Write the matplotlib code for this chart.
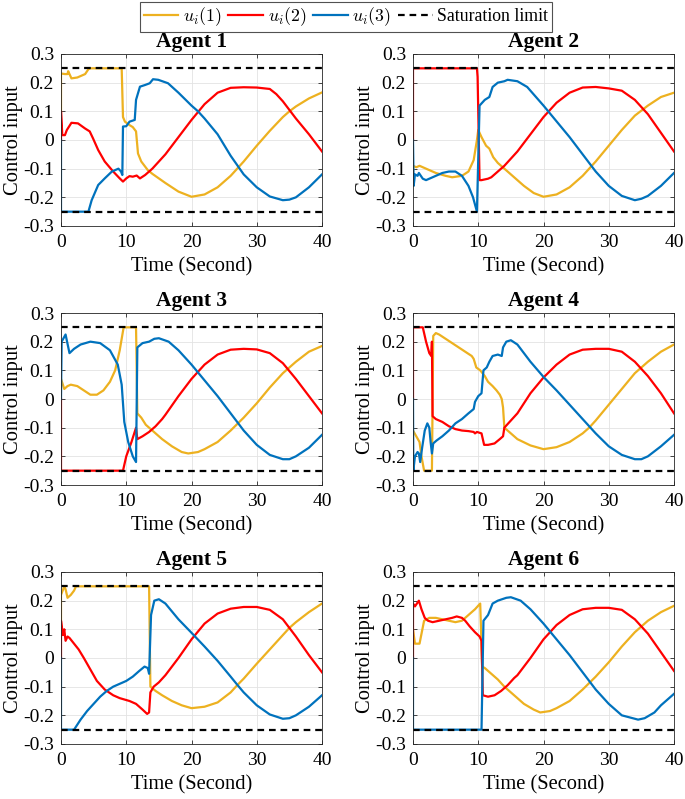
import numpy as np
import matplotlib.pyplot as plt

plt.rcParams['font.family'] = ['Liberation Serif', 'DejaVu Serif']
plt.rcParams['mathtext.fontset'] = 'cm'

SAT = 0.25
COLORS = ['#EDB120', '#FF0000', '#0072BD']
LABELS = [r'$u_i(1)$', r'$u_i(2)$', r'$u_i(3)$', 'Saturation limit']
TITLES = ['Agent 1', 'Agent 2', 'Agent 3', 'Agent 4', 'Agent 5', 'Agent 6']
X_TICKS = [0, 10, 20, 30, 40]
Y_TICKS = [-0.3, -0.2, -0.1, 0, 0.1, 0.2, 0.3]
Y_TICK_LABELS = ['-0.3', '-0.2', '-0.1', '0', '0.1', '0.2', '0.3']

# ---- Agent 1 ----
a1_t1 = [0, 0, 0.6, 1.0, 1.1, 1.6, 2.5, 3.7, 4.2, 4.5, 9.3, 9.5, 9.8, 10.5, 11.0, 11.5,
         11.8, 12.3, 13.3, 14.0, 16.0, 18.0, 20.0, 22.0, 24.0, 26.0, 28.0, 30.0, 32.0,
         34.0, 35.0, 36.0, 38.0, 40.0]
a1_u1 = [0.10, 0.232, 0.23, 0.23, 0.24, 0.215, 0.218, 0.23, 0.247, 0.25, 0.25, 0.08, 0.064,
         0.052, 0.045, 0.03, -0.047, -0.075, -0.105, -0.118, -0.15, -0.18, -0.198, -0.19,
         -0.165, -0.125, -0.075, -0.02, 0.032, 0.08, 0.10, 0.117, 0.145, 0.166]
a1_t2 = [0, 0, 0.2, 0.6, 0.9, 1.6, 2.6, 3.7, 4.4, 4.9, 5.7, 6.7, 8.0, 9.0, 9.5, 10.0, 10.5,
         11.0, 11.6, 12.1, 12.9, 14.0, 16.0, 18.0, 20.0, 22.0, 24.0, 26.0, 28.0, 30.0,
         32.0, 33.0, 34.0, 35.0, 36.0, 38.0, 40.0]
a1_u2 = [0, 0.10, 0.017, 0.017, 0.035, 0.06, 0.058, 0.04, 0.03, 0.006, -0.035, -0.075,
         -0.11, -0.134, -0.145, -0.134, -0.126, -0.128, -0.124, -0.134, -0.122, -0.10,
         -0.05, 0.01, 0.07, 0.125, 0.165, 0.182, 0.184, 0.183, 0.178, 0.16, 0.135, 0.105,
         0.075, 0.02, -0.04]
a1_t3 = [0, 0, 4.2, 4.7, 5.7, 6.7, 7.8, 8.8, 9.2, 9.4, 9.5, 10.0, 10.5, 11.3, 11.5, 12.1,
         12.9, 13.6, 14.1, 14.9, 16.4, 18.0, 20.0, 21.0, 22.0, 24.0, 26.0, 28.0, 30.0,
         32.0, 34.0, 35.0, 36.0, 38.0, 40.0]
a1_u3 = [0, -0.25, -0.25, -0.21, -0.157, -0.134, -0.11, -0.10, -0.11, -0.122, 0.047, 0.048,
         0.064, 0.07, 0.14, 0.186, 0.192, 0.198, 0.212, 0.21, 0.198, 0.165, 0.12, 0.10,
         0.075, 0.02, -0.055, -0.12, -0.165, -0.197, -0.21, -0.208, -0.2, -0.165, -0.12]

# ---- Agent 2 ----
a2_t1 = [0, 0, 0.5, 1.0, 2.0, 3.5, 5.0, 6.0, 7.5, 8.5, 9.3, 9.8, 10.0, 10.5, 11.2, 11.7,
         12.3, 13.0, 14.0, 15.5, 17.0, 18.5, 20.0, 22.0, 24.0, 26.0, 28.0, 30.0, 32.0,
         34.0, 36.0, 38.0, 40.0]
a2_u1 = [-0.16, -0.09, -0.095, -0.09, -0.10, -0.115, -0.125, -0.13, -0.125, -0.11, -0.07,
         0.0, 0.035, 0.01, -0.02, -0.03, -0.06, -0.08, -0.10, -0.13, -0.16, -0.185, -0.198,
         -0.19, -0.165, -0.125, -0.075, -0.02, 0.035, 0.085, 0.12, 0.15, 0.165]
a2_t2 = [0, 0, 9.8, 9.9, 10.2, 10.5, 11.5, 12.0, 13.0, 14.0, 15.0, 16.0, 18.0, 20.0, 22.0,
         24.0, 26.0, 28.0, 30.0, 32.0, 34.0, 36.0, 38.0, 40.0]
a2_u2 = [0, 0.25, 0.25, 0.22, -0.14, -0.14, -0.135, -0.13, -0.11, -0.09, -0.065, -0.04,
         0.02, 0.08, 0.13, 0.165, 0.183, 0.185, 0.18, 0.172, 0.14, 0.09, 0.025, -0.04]
a2_t3 = [0, 0.1, 0.3, 0.7, 0.9, 1.5, 2.0, 3.0, 4.5, 5.5, 6.5, 7.5, 8.5, 9.2, 9.8, 10.2,
         11.0, 11.7, 12.2, 13.0, 14.0, 14.5, 16.0, 17.5, 20.0, 22.0, 24.0, 26.0, 28.0,
         30.0, 32.0, 34.0, 35.0, 36.0, 38.0, 40.0]
a2_u3 = [0, -0.16, -0.12, -0.125, -0.115, -0.135, -0.14, -0.13, -0.115, -0.11, -0.11,
         -0.125, -0.16, -0.20, -0.25, 0.12, 0.14, 0.15, 0.185, 0.20, 0.205, 0.21, 0.205,
         0.185, 0.12, 0.065, 0.01, -0.05, -0.11, -0.16, -0.195, -0.21, -0.205, -0.195,
         -0.16, -0.115]

# ---- Agent 3 ----
a3_t1 = [0, 0.5, 1.0, 1.5, 2.5, 3.5, 4.5, 5.5, 6.5, 7.5, 8.3, 9.0, 9.6, 11.5, 11.7, 12.3,
         13.0, 14.0, 15.5, 17.0, 18.5, 19.5, 21.0, 22.0, 24.0, 26.0, 28.0, 30.0, 32.0,
         34.0, 36.0, 38.0, 40.0]
a3_u1 = [0.07, 0.035, 0.045, 0.05, 0.045, 0.03, 0.015, 0.015, 0.03, 0.06, 0.10, 0.17, 0.25,
         0.25, -0.05, -0.065, -0.09, -0.11, -0.14, -0.165, -0.185, -0.19, -0.185, -0.175,
         -0.15, -0.11, -0.065, -0.015, 0.04, 0.09, 0.13, 0.165, 0.185]
a3_t2 = [0, 0, 9.5, 10.0, 10.8, 11.5, 11.7, 12.5, 13.5, 14.5, 15.5, 16.0, 18.0, 20.0, 22.0,
         24.0, 26.0, 28.0, 30.0, 32.0, 34.0, 36.0, 38.0, 40.0]
a3_u2 = [0, -0.25, -0.25, -0.20, -0.15, -0.10, -0.14, -0.13, -0.115, -0.095, -0.07, -0.055,
         0.01, 0.07, 0.12, 0.155, 0.172, 0.175, 0.173, 0.16, 0.125, 0.07, 0.01, -0.05]
a3_t3 = [0, 0.1, 0.7, 1.3, 2.0, 3.0, 4.5, 6.0, 7.5, 8.7, 9.3, 9.7, 10.3, 11.0, 11.5, 11.7,
         12.5, 13.5, 14.3, 15.0, 16.5, 18.0, 20.0, 22.0, 24.0, 26.0, 28.0, 30.0, 32.0,
         34.0, 35.0, 36.0, 38.0, 40.0]
a3_u3 = [0, 0.20, 0.225, 0.16, 0.175, 0.19, 0.20, 0.195, 0.17, 0.12, 0.05, -0.08, -0.15,
         -0.20, -0.22, 0.18, 0.195, 0.20, 0.21, 0.212, 0.20, 0.17, 0.12, 0.065, 0.01,
         -0.05, -0.11, -0.16, -0.195, -0.21, -0.21, -0.20, -0.17, -0.125]

# ---- Agent 4 ----
a4_t1 = [0, 0.5, 1.0, 1.3, 1.7, 2.9, 3.1, 3.5, 4.0, 5.0, 6.0, 7.0, 8.0, 9.0, 9.3, 9.7,
         10.3, 11.0, 11.5, 12.2, 12.8, 13.3, 13.6, 13.8, 14.0, 15.0, 16.0, 18.0, 20.0,
         22.0, 24.0, 26.0, 27.0, 28.0, 30.0, 32.0, 34.0, 36.0, 38.0, 40.0]
a4_u1 = [-0.11, -0.13, -0.15, -0.20, -0.25, -0.25, 0.22, 0.23, 0.225, 0.21, 0.195, 0.18,
         0.165, 0.15, 0.14, 0.11, 0.10, 0.08, 0.06, 0.045, 0.03, 0.015, 0.0, -0.03, -0.10,
         -0.12, -0.14, -0.162, -0.175, -0.168, -0.15, -0.12, -0.10, -0.075, -0.02, 0.035,
         0.09, 0.13, 0.165, 0.19]
a4_t2 = [0, 0, 1.5, 2.0, 2.5, 2.8, 2.9, 3.0, 3.5, 4.5, 5.5, 6.5, 7.5, 8.5, 9.3, 9.5, 9.8,
         10.5, 10.9, 11.5, 12.5, 13.3, 13.8, 14.0, 16.0, 18.0, 20.0, 22.0, 24.0, 26.0, 28.0,
         30.0, 32.0, 34.0, 36.0, 38.0, 40.0]
a4_u2 = [0, 0.25, 0.25, 0.20, 0.16, 0.15, 0.20, -0.06, -0.07, -0.08, -0.095, -0.105,
         -0.11, -0.112, -0.115, -0.12, -0.115, -0.12, -0.16, -0.16, -0.155, -0.14, -0.13,
         -0.10, -0.05, 0.02, 0.075, 0.12, 0.155, 0.172, 0.175, 0.175, 0.165, 0.13, 0.08,
         0.02, -0.05]
a4_t3 = [0, 0.05, 0.3, 0.7, 0.9, 1.1, 1.4, 1.8, 2.2, 2.5, 2.7, 2.9, 3.1, 3.6, 4.5, 5.5, 6.5,
         7.5, 8.5, 9.3, 9.5, 10.0, 10.5, 10.8, 11.3, 11.7, 12.2, 13.0, 13.6, 13.8, 14.3,
         15.0, 16.0, 18.0, 20.0, 22.0, 24.0, 26.0, 28.0, 30.0, 32.0, 34.0, 35.0, 36.0,
         38.0, 40.0]
a4_u3 = [0, -0.25, -0.20, -0.185, -0.19, -0.22, -0.17, -0.11, -0.085, -0.10, -0.15, -0.19,
         -0.155, -0.145, -0.13, -0.11, -0.085, -0.07, -0.05, -0.035, -0.01, 0.01, 0.02,
         0.10, 0.11, 0.13, 0.15, 0.155, 0.15, 0.18, 0.20, 0.205, 0.19, 0.13, 0.077, 0.03,
         -0.02, -0.07, -0.12, -0.165, -0.195, -0.21, -0.21, -0.20, -0.165, -0.125]

# ---- Agent 5 ----
a5_t1 = [0, 0, 0.5, 0.7, 1.0, 1.5, 2.0, 2.3, 13.5, 13.7, 14.5, 15.5, 17.0, 18.5, 20.0,
         22.0, 24.0, 26.0, 27.0, 28.0, 30.0, 32.0, 34.0, 35.0, 36.0, 38.0, 40.0]
a5_u1 = [0.12, 0.22, 0.25, 0.24, 0.21, 0.22, 0.235, 0.25, 0.25, -0.10, -0.115, -0.13,
         -0.15, -0.165, -0.175, -0.17, -0.155, -0.12, -0.095, -0.072, -0.02, 0.03, 0.08,
         0.105, 0.125, 0.16, 0.19]
a5_t2 = [0, 0, 0.3, 0.5, 0.7, 1.0, 1.3, 2.0, 2.7, 3.5, 4.5, 5.5, 6.7, 8.0, 9.0, 10.5, 11.5,
         12.5, 13.2, 13.5, 13.7, 14.2, 15.0, 16.0, 18.0, 20.0, 22.0, 24.0, 26.0, 28.0,
         30.0, 32.0, 34.0, 35.0, 36.0, 38.0, 40.0]
a5_u2 = [0, 0.13, 0.08, 0.10, 0.06, 0.075, 0.07, 0.05, 0.03, 0.0, -0.04, -0.08, -0.11,
         -0.13, -0.14, -0.15, -0.16, -0.18, -0.195, -0.19, -0.12, -0.10, -0.085, -0.06,
         0.0, 0.065, 0.12, 0.155, 0.172, 0.178, 0.178, 0.168, 0.135, 0.105, 0.075, 0.01,
         -0.05]
a5_t3 = [0, 0, 2.0, 3.0, 4.0, 5.0, 6.0, 7.0, 8.0, 9.0, 10.0, 11.0, 12.0, 12.8, 13.3, 13.5,
         13.8, 14.3, 15.0, 16.0, 18.0, 20.0, 22.0, 24.0, 26.0, 27.0, 28.0, 30.0, 32.0,
         34.0, 35.0, 36.0, 38.0, 40.0]
a5_u3 = [0, -0.25, -0.25, -0.215, -0.185, -0.16, -0.135, -0.115, -0.10, -0.09, -0.08,
         -0.065, -0.045, -0.03, -0.035, -0.055, 0.15, 0.20, 0.205, 0.19, 0.135, 0.088,
         0.04, -0.01, -0.065, -0.093, -0.12, -0.165, -0.197, -0.212, -0.21, -0.20, -0.17,
         -0.13]

# ---- Agent 6 ----
a6_t1 = [0, 0.3, 1.0, 1.7, 2.5, 3.5, 4.5, 5.5, 6.5, 7.5, 8.5, 9.5, 10.3, 10.6, 11.0, 12.0,
         13.0, 14.0, 15.5, 17.0, 18.5, 19.5, 21.0, 22.0, 24.0, 26.0, 28.0, 30.0, 32.0,
         34.0, 36.0, 38.0, 40.0]
a6_u1 = [0.10, 0.05, 0.05, 0.13, 0.14, 0.14, 0.135, 0.13, 0.125, 0.13, 0.15, 0.17, 0.19,
         -0.03, -0.035, -0.055, -0.075, -0.10, -0.13, -0.16, -0.18, -0.19, -0.185, -0.175,
         -0.15, -0.11, -0.065, -0.015, 0.04, 0.09, 0.13, 0.16, 0.182]
a6_t2 = [0, 0, 0.3, 0.6, 0.9, 1.3, 1.8, 2.3, 3.0, 4.0, 5.0, 6.0, 6.7, 7.5, 8.0, 8.7, 9.5,
         10.2, 10.5, 10.7, 11.5, 12.5, 13.5, 14.5, 15.5, 16.0, 18.0, 20.0, 22.0, 24.0,
         26.0, 28.0, 30.0, 32.0, 34.0, 36.0, 38.0, 40.0]
a6_u2 = [0, 0.19, 0.18, 0.19, 0.20, 0.17, 0.14, 0.13, 0.125, 0.13, 0.135, 0.14, 0.145,
         0.14, 0.13, 0.11, 0.09, 0.075, 0.06, -0.13, -0.135, -0.13, -0.115, -0.095, -0.07,
         -0.06, 0.0, 0.065, 0.115, 0.15, 0.17, 0.175, 0.175, 0.168, 0.135, 0.085, 0.02,
         -0.045]
a6_t3 = [0, 0, 10.5, 10.8, 11.5, 12.2, 13.0, 14.3, 15.0, 16.5, 18.0, 20.0, 22.0, 24.0,
         26.0, 28.0, 30.0, 32.0, 34.5, 35.5, 37.0, 38.0, 40.0]
a6_u3 = [0, -0.25, -0.25, 0.13, 0.15, 0.19, 0.20, 0.21, 0.212, 0.20, 0.17, 0.12, 0.065,
         0.01, -0.05, -0.11, -0.16, -0.20, -0.215, -0.21, -0.19, -0.165, -0.125]

agents = [
    [(a1_t1, a1_u1), (a1_t2, a1_u2), (a1_t3, a1_u3)],
    [(a2_t1, a2_u1), (a2_t2, a2_u2), (a2_t3, a2_u3)],
    [(a3_t1, a3_u1), (a3_t2, a3_u2), (a3_t3, a3_u3)],
    [(a4_t1, a4_u1), (a4_t2, a4_u2), (a4_t3, a4_u3)],
    [(a5_t1, a5_u1), (a5_t2, a5_u2), (a5_t3, a5_u3)],
    [(a6_t1, a6_u1), (a6_t2, a6_u2), (a6_t3, a6_u3)],
]

W, H = 685, 799
fig = plt.figure(figsize=(W / 100, H / 100), dpi=100)

lefts = [61, 413]
tops = [54, 313, 572]
aw, ah = 261, 172
FS = 14.8

handles = []
for k, curves in enumerate(agents):
    r, c = divmod(k, 2)
    ax = fig.add_axes([lefts[c] / W, (H - tops[r] - ah) / H, aw / W, ah / H])
    lines = []
    for (t, u), col in zip(curves, COLORS):
        ln, = ax.plot(t, u, color=col, lw=1.6, solid_joinstyle='round')
        lines.append(ln)
    sat_ln = ax.axhline(SAT, color='black', lw=1.6, ls=(0, (3, 2.2)))
    ax.axhline(-SAT, color='black', lw=1.6, ls=(0, (3, 2.2)))
    lines.append(sat_ln)
    if k == 0:
        handles = lines

    ax.set_xlim(0, 40)
    ax.set_ylim(-0.3, 0.3)
    ax.set_xticks(X_TICKS)
    ax.set_yticks(Y_TICKS)
    ax.set_yticklabels(Y_TICK_LABELS)
    ax.tick_params(direction='in', length=3, width=0.6, labelsize=14, colors='#262626',
                   top=True, right=True)
    ax.tick_params(axis='x', pad=6)
    ax.tick_params(axis='y', pad=5)
    for lab in ax.get_xticklabels() + ax.get_yticklabels():
        lab.set_color('black')
    ax.grid(True, color='#e3e3e3', lw=0.6)
    ax.set_axisbelow(True)
    for sp in ax.spines.values():
        sp.set_color('#262626')
        sp.set_linewidth(0.6)
    ax.set_title(TITLES[k], fontsize=15.5, fontweight='bold', pad=5)
    ax.set_xlabel('Time (Second)', fontsize=FS, labelpad=4)
    ax.set_ylabel('Control input', fontsize=FS, labelpad=0)

leg = fig.legend(handles, LABELS, loc='upper center', bbox_to_anchor=(0.505, 1.0),
                 ncol=4, fontsize=12.8, frameon=True, fancybox=False, edgecolor='#262626',
                 handlelength=1.95, handletextpad=0.25, columnspacing=0.4,
                 borderpad=0.2, borderaxespad=0.1)
leg.get_frame().set_linewidth(0.8)

fig.savefig('out.png', dpi=100)
